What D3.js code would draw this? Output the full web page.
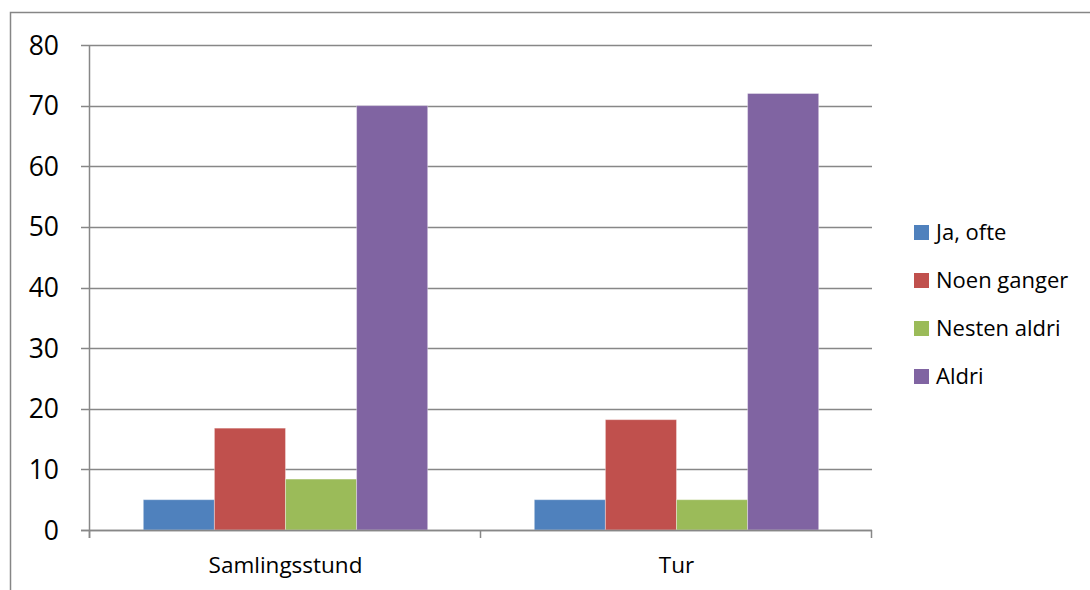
<!DOCTYPE html>
<html><head><meta charset="utf-8">
<script src="https://cdn.jsdelivr.net/npm/d3@7"></script>
<style>body{margin:0;background:#fff}svg{display:block}</style>
</head><body>
<script>
const categories = ["Samlingsstund", "Tur"];
const seriesNames = ["Ja, ofte", "Noen ganger", "Nesten aldri", "Aldri"];
const jaOfte = [5, 5];
const noenGanger = [16.8, 18.2];
const nestenAldri = [8.4, 5];
const aldri = [70, 72];
const yTicks = [0, 10, 20, 30, 40, 50, 60, 70, 80];
const colors = ["#4F81BD", "#C0504D", "#9BBB59", "#8064A2"];
const seriesValues = [jaOfte, noenGanger, nestenAldri, aldri];

(function () {
const W = 1090, H = 590;
const svg = d3.select("body").append("svg").attr("width", W).attr("height", H);
const font = "Open Sans, Noto Sans, sans-serif";

// outer border
svg.append("rect").attr("x", 10.5).attr("y", 12.5).attr("width", W).attr("height", H)
  .attr("fill", "none").attr("stroke", "#868686").attr("stroke-width", 1.5);

const pLeft = 90, pRight = 872, pTop = 45, pBottom = 530;
const x0 = d3.scaleBand().domain(categories).range([pLeft, pRight]).paddingInner(0).paddingOuter(0);
const x1 = d3.scaleBand().domain(seriesNames).range([0, x0.bandwidth()]).paddingOuter(0.75).paddingInner(0);
const y = d3.scaleLinear().domain([0, 80]).range([pBottom, pTop]);

// gridlines
svg.append("g").selectAll("line").data(yTicks).join("line")
  .attr("x1", pLeft - 9).attr("x2", pRight)
  .attr("y1", d => Math.round(y(d)) + 0.5).attr("y2", d => Math.round(y(d)) + 0.5)
  .attr("stroke", "#878787").attr("stroke-width", 1.5);

// y axis line
svg.append("line").attr("x1", pLeft - 0.5).attr("x2", pLeft - 0.5).attr("y1", pTop).attr("y2", pBottom + 8)
  .attr("stroke", "#878787").attr("stroke-width", 1.5);

// x axis ticks
const xt = [pLeft, x0("Tur"), pRight];
svg.append("g").selectAll("line").data(xt).join("line")
  .attr("x1", d => Math.round(d) - 0.5).attr("x2", d => Math.round(d) - 0.5)
  .attr("y1", pBottom).attr("y2", pBottom + 8)
  .attr("stroke", "#878787").attr("stroke-width", 1.5);

// bars
const groups = svg.append("g").selectAll("g").data(categories).join("g")
  .attr("transform", d => `translate(${x0(d)},0)`);
groups.selectAll("rect").data((c, ci) => seriesNames.map((s, si) => ({s, si, v: seriesValues[si][ci]})))
  .join("rect")
  .attr("x", d => x1(d.s)).attr("width", x1.bandwidth())
  .attr("y", d => y(d.v)).attr("height", d => y(0) - y(d.v))
  .attr("fill", d => colors[d.si])
  .attr("stroke", "rgba(255,255,255,0.35)").attr("stroke-width", 1);

// redraw baseline over bars
svg.append("line").attr("x1", pLeft - 9).attr("x2", pRight)
  .attr("y1", Math.round(y(0)) + 0.5).attr("y2", Math.round(y(0)) + 0.5)
  .attr("stroke", "#878787").attr("stroke-width", 1.5);

// y labels
svg.append("g").selectAll("text").data(yTicks).join("text")
  .attr("x", 59).attr("y", d => y(d)).attr("dy", "0.36em")
  .attr("text-anchor", "end").attr("font-family", font).attr("font-size", 26.5)
  .attr("fill", "#000").text(d => d);

// x labels
svg.append("g").selectAll("text").data(categories).join("text")
  .attr("x", d => x0(d) + x0.bandwidth() / 2).attr("y", 573)
  .attr("text-anchor", "middle").attr("font-family", font).attr("font-size", 22.5)
  .attr("fill", "#000").text(d => d);

// legend
const lg = svg.append("g").selectAll("g").data(seriesNames).join("g")
  .attr("transform", (d, i) => `translate(914,${232.5 + i * 48})`);
lg.append("rect").attr("x", 0).attr("y", -7.5).attr("width", 15).attr("height", 15)
  .attr("fill", (d, i) => colors[i]);
lg.append("text").attr("x", 22).attr("y", 0).attr("dy", "0.34em")
  .attr("font-family", font).attr("font-size", 22).attr("fill", "#000").text(d => d);
})();
</script>
</body></html>
